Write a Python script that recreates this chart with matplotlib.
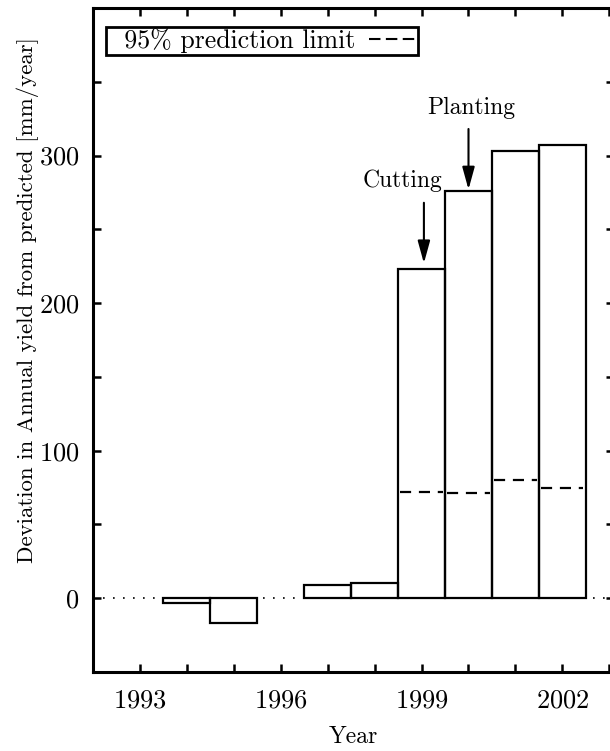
#!/usr/bin/env python
# -*- coding: utf-8 -*-
"""Deviation of annual yield from predicted, with cutting/planting markers."""

import matplotlib

matplotlib.use("Agg")
import matplotlib.pyplot as plt
import numpy as np
from matplotlib.lines import Line2D
from matplotlib.ticker import MultipleLocator

# data
BAR_YEARS = [1994, 1995, 1997, 1998, 1999, 2000, 2001, 2002]
DEVIATION = [-3.5, -17, 9, 10, 223, 276, 303, 307]

LIMIT_YEARS = [1999, 2000, 2001, 2002]
PREDICTION_LIMIT = [72, 71.5, 80, 75]

XTICKS = [1993, 1996, 1999, 2002]
YTICKS = [0, 100, 200, 300]

FONT_SIZE = 17
YLABEL_SIZE = 16.5
TICK_SIZE = 19
LEGEND_SIZE = 18.6

plt.rcParams.update(
    {
        "font.family": ["cmr10", "DejaVu Serif"],
        "mathtext.fontset": "cm",
        "axes.formatter.use_mathtext": True,
        "font.size": FONT_SIZE,
    }
)

fig = plt.figure(figsize=(6.10, 7.51), dpi=100)
ax = fig.add_axes([93 / 610, 1 - 672 / 751, 521 / 610, 664 / 751])

# zero reference line
ax.axhline(0, color="black", linestyle=(0, (1, 5)), linewidth=1.2, zorder=1)

ax.bar(
    BAR_YEARS,
    DEVIATION,
    width=1.0,
    fill=False,
    edgecolor="black",
    linewidth=1.6,
    zorder=2,
)

lim_x = np.asarray(LIMIT_YEARS, dtype=float)
ax.hlines(
    PREDICTION_LIMIT,
    lim_x - 0.45,
    lim_x + 0.45,
    colors="black",
    linestyles=(0, (5, 3.5)),
    linewidth=1.6,
    zorder=3,
)

arrow_kw = dict(
    arrowstyle="-|>,head_length=0.8,head_width=0.22",
    color="black",
    linewidth=1.5,
    shrinkA=0,
    shrinkB=0,
)
ax.annotate("", xy=(1999.05, 227), xytext=(1999.05, 268), arrowprops=arrow_kw)
ax.text(1998.6, 283, "Cutting", ha="center", va="center", fontsize=FONT_SIZE)
ax.annotate("", xy=(2000.0, 277), xytext=(2000.0, 318), arrowprops=arrow_kw)
ax.text(2000.05, 332, "Planting", ha="center", va="center", fontsize=FONT_SIZE)

ax.set_xlim(1992, 2003.1)
ax.set_ylim(-50, 400)
ax.set_xticks(XTICKS)
ax.xaxis.set_minor_locator(MultipleLocator(1))
ax.set_yticks(YTICKS)
ax.yaxis.set_minor_locator(MultipleLocator(50))
ax.tick_params(
    which="both",
    direction="in",
    top=True,
    right=True,
    length=6,
    width=1.8,
    labelsize=TICK_SIZE,
)
ax.tick_params(axis="x", which="major", pad=12)
ax.tick_params(axis="y", which="major", pad=10)
for spine in ax.spines.values():
    spine.set_linewidth(2.2)

ax.set_xlabel("Year", fontsize=FONT_SIZE, labelpad=10)
ax.set_ylabel("Deviation in Annual yield from predicted [mm/year]", fontsize=YLABEL_SIZE)
ax.yaxis.set_label_coords(-0.104, 0.56)

handle = Line2D([0], [0], color="black", linestyle=(0, (5.5, 2.6)), linewidth=1.5)
leg = ax.legend(
    handles=[handle],
    labels=["  95% prediction limit"],
    markerfirst=False,
    loc="upper left",
    bbox_to_anchor=(0.025, 0.971),
    borderaxespad=0,
    borderpad=0.05,
    handlelength=1.85,
    handletextpad=0.5,
    fancybox=False,
    framealpha=1,
    edgecolor="black",
    fontsize=LEGEND_SIZE,
)
leg.get_frame().set_linewidth(2.0)

fig.savefig("out.png", dpi=100)
